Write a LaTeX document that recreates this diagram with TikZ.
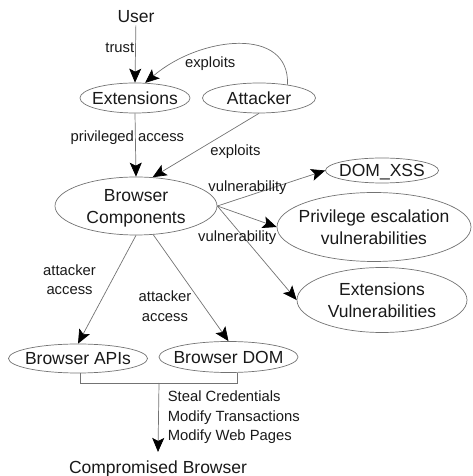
\documentclass[tikz,border=0pt]{standalone}
\usepackage{fontspec}
\setmainfont{Liberation Sans}
\usetikzlibrary{shapes.geometric,arrows.meta}
\newcommand{\ctext}[1]{\makebox[0pt]{\begin{tabular}{@{}c@{}}#1\end{tabular}}}

\begin{document}
\begin{tikzpicture}[x=1pt,y=1pt,
        comp/.style={ellipse, draw=black!55, line width=0.7pt, inner sep=0pt, text height=12.6pt, text depth=0pt, text=black!90, font=\fontsize{17.5}{21.5}\selectfont},
        plain/.style={inner sep=2pt, text=black!90, font=\fontsize{17.5}{21.5}\selectfont},
        lbl/.style={inner sep=1pt, text=black!90, align=center, font=\fontsize{14.8}{19.5}\selectfont},
        line/.style={draw=black!55, line width=0.7pt},
        arr/.style={line, -{Stealth[length=14pt, width=12pt, inset=3pt, color=black]}}]
        \useasboundingbox (0,0) rectangle (472,476);
        % actors
        \node[plain] (user) at (136,459) {User};
        \node[comp, minimum width=110, minimum height=30] (ext) at (135,378) {\ctext{Extensions}};
        \node[comp, minimum width=113, minimum height=30] (att) at (259,378) {\ctext{Attacker}};
        \node[comp, minimum width=162, minimum height=58] (bc) at (136,270) {\ctext{Browser\\Components}};
        % vulnerabilities
        \node[comp, minimum width=113, minimum height=25] (xss) at (382,305.5) {\ctext{DOM\_XSS}};
        \node[comp, minimum width=194, minimum height=69] (priv) at (374,249) {\ctext{Privilege escalation\\vulnerabilities}};
        \node[comp, minimum width=170, minimum height=65] (extv) at (382,176) {\ctext{Extensions\\Vulnerabilities}};
        % targets
        \node[comp, minimum width=139, minimum height=29] (apis) at (78,117.5) {\ctext{Browser APIs}};
        \node[comp, minimum width=139, minimum height=31] (dom) at (228.5,119) {\ctext{Browser DOM}};
        \node[plain, inner ysep=8.5pt] (cb) at (158,7.2) {Compromised Browser};
        \coordinate (bl) at (80,93);
        \coordinate (br) at (237,93);
        \coordinate (bm) at (159,93);
        % edges
        \draw[arr] (user) -- node[lbl, pos=0.4, left] {trust} (ext.north);
        \draw[arr] (att.25) .. controls (290,450) and (200,440) .. node[lbl, pos=0.65, below=7pt] {exploits} (ext.56);
        \draw[arr] (ext.south) -- node[lbl, pos=0.38, xshift=-8pt] {privileged access} (bc.north);
        \draw[arr] (att.south) -- node[lbl, pos=0.47, below right] {exploits} (bc.60);
        \draw[arr] (bc.east) -- node[lbl, pos=0.28, above] {vulnerability} (xss.west);
        \draw[arr] (bc.east) -- (priv.west);
        \draw[arr] (bc.east) -- node[lbl, pos=0.34, xshift=-7pt] {vulnerability} (extv.west);
        \draw[arr] (bc.south) -- node[lbl, pos=0.41, left=15pt] {attacker\\access} (apis.north);
        \draw[arr] (bc.-59) -- node[lbl, pos=0.67, left=11pt] {attacker\\access} (dom.north);
        % join of the two targets
        \draw[line] (apis.south -| bl) |- (br) -- (dom.south -| br);
        \draw[arr] (bm) -- node[lbl, right=8pt, align=left] {Steal Credentials\\Modify Transactions\\Modify Web Pages} (cb.north);
\end{tikzpicture}
\end{document}
